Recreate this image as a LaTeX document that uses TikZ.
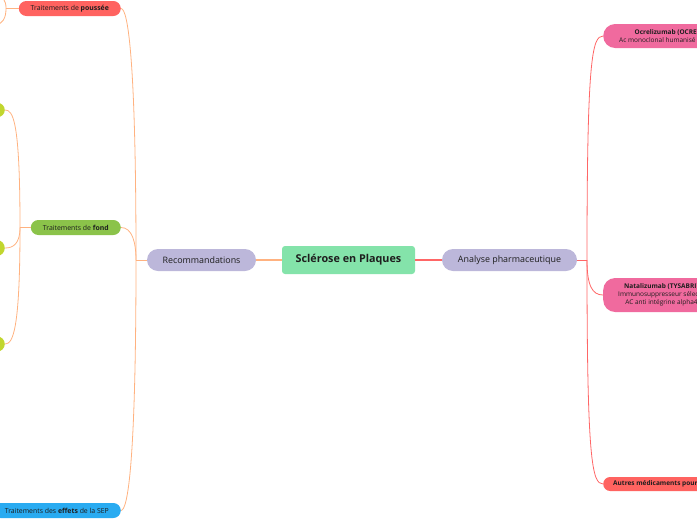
\documentclass[tikz,border=0pt]{standalone}
\usepackage{fontspec}
\setmainfont{Open Sans}
\usepackage{tikz}
\usetikzlibrary{positioning}
\usepackage{xcolor}
\definecolor{SEPGreen}{RGB}{132,227,170}
\definecolor{SEPLavender}{RGB}{188,183,218}
\definecolor{SEPOrange}{RGB}{255,178,128}
\definecolor{SEPRed}{RGB}{255,102,102}
\definecolor{SEPCoral}{RGB}{255,99,96}
\definecolor{SEPLeaf}{RGB}{139,195,74}
\definecolor{SEPLime}{RGB}{193,214,46}
\definecolor{SEPSky}{RGB}{41,171,241}
\definecolor{SEPPink}{RGB}{240,106,158}
\definecolor{SEPText}{RGB}{30,30,30}

\begin{document}
\begin{tikzpicture}[
x=1pt,y=-1pt,
root/.style={
rectangle,
rounded corners=3pt,
fill=SEPGreen,
minimum width=133pt,
minimum height=28pt,
inner sep=0pt,
text=SEPText,
font=\fontsize{10.8}{12}\selectfont\bfseries
},
topic/.style={
rectangle,
rounded corners=11pt,
fill=SEPLavender,
minimum height=22pt,
inner sep=0pt,
text=SEPText,
font=\fontsize{8.9}{10}\selectfont
},
leaf/.style={
rectangle,
rounded corners=7.5pt,
minimum height=15pt,
inner sep=0pt,
text=SEPText,
font=\fontsize{6.9}{8}\selectfont
},
drug/.style={
rectangle,
rounded corners=12pt,
fill=SEPPink,
inner ysep=0pt,
align=center,
text=SEPText,
font=\fontsize{6.5}{8}\selectfont
},
mainlink/.style={
line width=1.4pt,
draw=#1
},
link/.style={
line width=0.8pt,
draw=#1
}
]

\useasboundingbox (0,0) rectangle (697,520);
\clip (0,0) rectangle (697,520);

\node[root] (sep) at (348.5,260) {Sclérose en Plaques};
\node[topic,minimum width=109pt] (reco) at (201.5,260) {Recommandations};
\node[topic,minimum width=135pt] (ana) at (509.5,260) {Analyse pharmaceutique};

\node[leaf,fill=SEPCoral,minimum width=102pt,anchor=east] (pous) at (121,8.5) {Traitements de \textbf{poussée}};
\node[leaf,fill=SEPLeaf,minimum width=90pt,anchor=east] (fond) at (121,227.5) {Traitements de \textbf{fond}};
\node[leaf,fill=SEPSky,minimum width=128pt,anchor=east] (eff) at (121,510.5) {Traitements des \textbf{effets} de la SEP};

\node[leaf,fill=SEPLime,minimum width=30pt,minimum height=14pt,rounded corners=7pt,anchor=east] (fondA) at (5,110) {};
\node[leaf,fill=SEPLime,minimum width=30pt,minimum height=16pt,rounded corners=8pt,anchor=east] (fondB) at (5,248) {};
\node[leaf,fill=SEPLime,minimum width=30pt,minimum height=15pt,rounded corners=7.5pt,anchor=east] (fondC) at (5,344) {};

\node[drug,minimum height=24pt,inner xsep=16pt,anchor=west] (ocre) at (603,36)
{\textbf{Ocrelizumab (OCREVUS)}\\Ac monoclonal humanisé anti-CD20};
\node[drug,minimum height=34pt,inner xsep=15pt,anchor=west] (nata) at (603,295)
{\textbf{Natalizumab (TYSABRI)}\\Immunosuppresseur sélectif\\AC anti intégrine alpha4};
\node[drug,fill=SEPCoral,minimum height=14pt,rounded corners=7pt,inner xsep=10pt,anchor=west] (autre) at (603,484)
{\textbf{Autres médicaments pour la SEP}};

\coordinate (recoJoin) at (136,260);
\coordinate (anaJoin) at (587,260);
\coordinate (fondJoin) at (20,227.5);
\coordinate (pousJoin) at (6,8.5);

\draw[mainlink=SEPOrange] (sep.west) -- (reco.east);
\draw[mainlink=SEPRed] (sep.east) -- (ana.west);

\draw[link=SEPOrange] (reco.west) -- (recoJoin);
\draw[link=SEPOrange] (recoJoin) .. controls (136,60) and (128,8.5) .. (pous.east);
\draw[link=SEPOrange] (recoJoin) .. controls (136,242) and (132,227.5) .. (fond.east);
\draw[link=SEPOrange] (recoJoin) .. controls (136,460) and (128,510.5) .. (eff.east);

\draw[link=SEPRed] (ana.east) -- (anaJoin);
\draw[link=SEPRed] (anaJoin) .. controls (587,60) and (592,36) .. (ocre.west);
\draw[link=SEPRed] (anaJoin) .. controls (587,285) and (592,295) .. (nata.west);
\draw[link=SEPRed] (anaJoin) .. controls (587,460) and (592,484) .. (autre.west);

\draw[link=SEPOrange] (fond.west) -- (fondJoin);
\draw[link=SEPOrange] (fondJoin) .. controls (20,120) and (13,110) .. (fondA.east);
\draw[link=SEPOrange] (fondJoin) .. controls (20,244) and (13,248) .. (fondB.east);
\draw[link=SEPOrange] (fondJoin) .. controls (20,330) and (13,344) .. (fondC.east);

\draw[link=SEPOrange] (pous.west) -- (pousJoin);
\draw[link=SEPOrange] (pousJoin) .. controls (6,0) and (3,-4) .. (-6,-6);
\draw[link=SEPOrange] (pousJoin) .. controls (6,18) and (3,24) .. (-6,26);

\end{tikzpicture}
\end{document}
